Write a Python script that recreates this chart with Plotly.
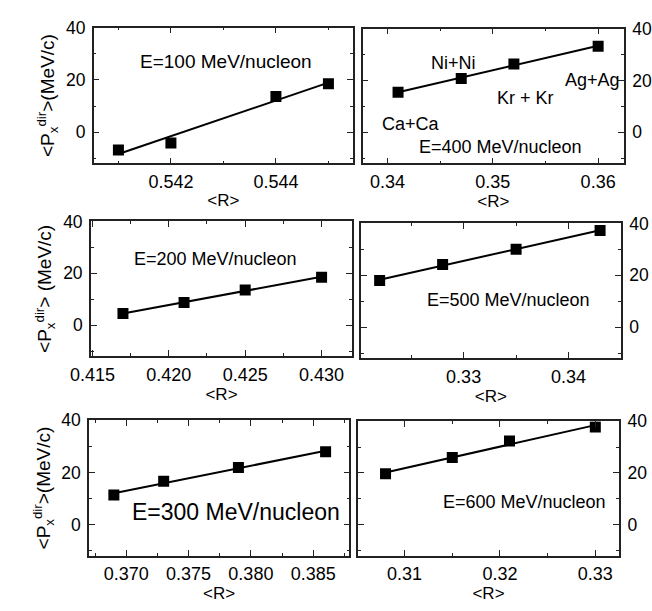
import numpy as np
import plotly.graph_objects as go

# ---------------- data ----------------
R_100 = [0.541, 0.542, 0.544, 0.545]
P_100 = [-6.8, -4.2, 13.6, 18.5]

R_400 = [0.341, 0.347, 0.352, 0.360]
P_400 = [15.5, 20.8, 26.4, 33.2]
sys_400 = ["Ca+Ca", "Ni+Ni", "Kr + Kr", "Ag+Ag"]

R_200 = [0.417, 0.421, 0.425, 0.430]
P_200 = [4.5, 8.7, 13.6, 18.5]

R_500 = [0.322, 0.328, 0.335, 0.343]
P_500 = [18.0, 24.2, 30.0, 37.3]

R_300 = [0.369, 0.373, 0.379, 0.386]
P_300 = [11.3, 16.6, 21.9, 27.9]

R_600 = [0.308, 0.315, 0.321, 0.330]
P_600 = [19.7, 26.0, 32.3, 37.7]

energy_labels = ["E=100 MeV/nucleon", "E=400 MeV/nucleon", "E=200 MeV/nucleon",
                 "E=500 MeV/nucleon", "E=300 MeV/nucleon", "E=600 MeV/nucleon"]

# ---------------- layout helpers ----------------
W, H = 652, 611
FONT = "Liberation Sans, Arial, sans-serif"
LINEC = "#222222"

def dom_x(a, b):
    return [a / W, b / W]

def dom_y(top, bottom):
    return [1 - bottom / H, 1 - top / H]

panels = [
    dict(R=R_100, P=P_100, dx=(76, 347), dy=(18, 156), xr=[0.54053, 0.54547], dt=0.002,
         side="left", yt="&lt;P<sub>x</sub><sup>dir</sup>&gt;(MeV/c)",
         lab=energy_labels[0], lx=0.54305, ly=27.2, ls=19, fmt=".3f"),
    dict(R=R_400, P=P_400, dx=(357, 630), dy=(19, 156), xr=[0.33764, 0.36245], dt=0.01,
         side="right", yt=None,
         lab=energy_labels[1], lx=0.35073, ly=-5.7, ls=18, fmt=".2f"),
    dict(R=R_200, P=P_200, dx=(73, 346), dy=(215, 352), xr=[0.4149, 0.432], dt=0.005,
         side="left", yt="&lt;P<sub>x</sub><sup>dir</sup>&gt; (MeV/c)",
         lab=energy_labels[2], lx=0.42303, ly=25.7, ls=18, fmt=".3f"),
    dict(R=R_500, P=P_500, dx=(355, 627), dy=(217, 354), xr=[0.3202, 0.345], dt=0.01,
         side="right", yt=None,
         lab=energy_labels[3], lx=0.33427, ly=10.4, ls=18, fmt=".2f"),
    dict(R=R_300, P=P_300, dx=(71, 343), dy=(417, 555), xr=[0.367, 0.3879], dt=0.005,
         side="left", yt="&lt;P<sub>x</sub><sup>dir</sup>&gt;(MeV/c)",
         lab=energy_labels[4], lx=0.37877, ly=4.9, ls=23, fmt=".3f"),
    dict(R=R_600, P=P_600, dx=(352, 625), dy=(418, 555), xr=[0.3051, 0.3325], dt=0.01,
         side="right", yt=None,
         lab=energy_labels[5], lx=0.3226, ly=8.8, ls=18, fmt=".2f"),
]

fig = go.Figure()
layout = dict(
    width=W, height=H,
    margin=dict(l=0, r=0, t=0, b=0),
    paper_bgcolor="white", plot_bgcolor="white",
    showlegend=False,
    font=dict(family=FONT, size=17, color="black"),
    annotations=[],
)

for i, p in enumerate(panels, start=1):
    xa = "x" if i == 1 else f"x{i}"
    ya = "y" if i == 1 else f"y{i}"
    R = np.array(p["R"])
    P = np.array(p["P"])
    slope, icpt = np.polyfit(R, P, 1)
    xfit = np.array([R.min(), R.max()])
    fig.add_trace(go.Scatter(x=xfit, y=slope * xfit + icpt, mode="lines",
                             line=dict(color="black", width=2),
                             xaxis=xa, yaxis=ya, hoverinfo="skip"))
    fig.add_trace(go.Scatter(x=R, y=P, mode="markers",
                             marker=dict(symbol="square", size=11, color="black"),
                             xaxis=xa, yaxis=ya))

    axkey_x = "xaxis" if i == 1 else f"xaxis{i}"
    axkey_y = "yaxis" if i == 1 else f"yaxis{i}"
    layout[axkey_x] = dict(
        domain=dom_x(*p["dx"]), anchor=ya, range=p["xr"],
        dtick=p["dt"], tick0=0, tickformat=p["fmt"],
        ticks="inside", ticklen=6, tickwidth=1, tickcolor=LINEC,
        minor=dict(ticks="inside", ticklen=3, dtick=p["dt"] / 2, tickcolor=LINEC, showgrid=False),
        showline=True, linecolor=LINEC, linewidth=1.5, mirror="ticks",
        showgrid=False, zeroline=False,
        tickfont=dict(size=18), ticklabelstandoff=1,
        title=dict(text="&lt;R&gt;", font=dict(size=17), standoff=3),
    )
    ydict = dict(
        domain=dom_y(*p["dy"]), anchor=xa, range=[-12, 40], side=p["side"],
        dtick=20, tick0=0,
        ticks="inside", ticklen=6, tickwidth=1, tickcolor=LINEC,
        minor=dict(ticks="inside", ticklen=3, dtick=10, tickcolor=LINEC, showgrid=False),
        showline=True, linecolor=LINEC, linewidth=1.5, mirror="ticks",
        showgrid=False, zeroline=False,
        tickfont=dict(size=17.5), ticklabelstandoff=3,
    )
    if p["yt"]:
        ydict["title"] = dict(text=p["yt"], font=dict(size=19), standoff=6)
    layout[axkey_y] = ydict

    layout["annotations"].append(dict(
        text=p["lab"], x=p["lx"], y=p["ly"], xref=xa, yref=ya,
        showarrow=False, font=dict(size=p["ls"], family=FONT, color="black"),
        xanchor="center", yanchor="middle"))

# collision-system labels in the 400 MeV/nucleon panel
sys_x = [0.34224, 0.3463, 0.35306, 0.35943]
sys_y = [3.4, 26.7, 13.2, 20.1]
for t, sx, sy in zip(sys_400, sys_x, sys_y):
    layout["annotations"].append(dict(
        text=t, x=sx, y=sy, xref="x2", yref="y2", showarrow=False,
        font=dict(size=18, family=FONT, color="black"),
        xanchor="center", yanchor="middle"))

fig.update_layout(**layout)
fig.write_html("out.html")
